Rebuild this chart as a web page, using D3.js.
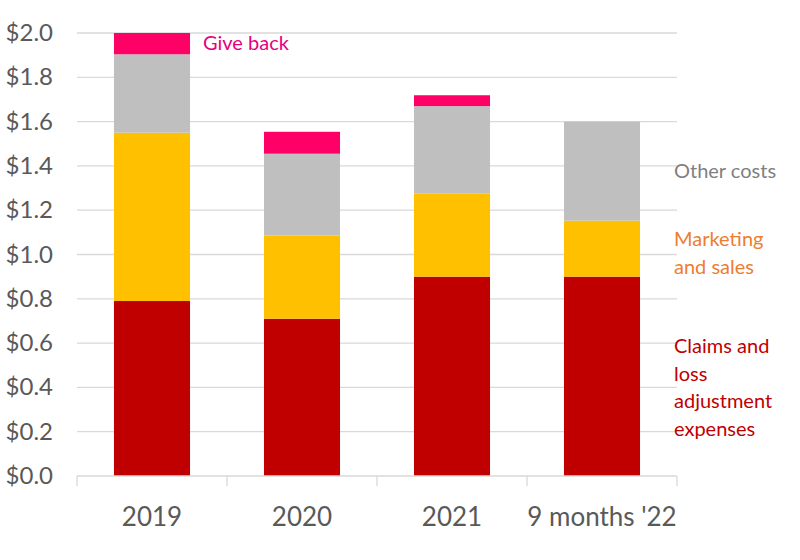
<!DOCTYPE html>
<html><head><meta charset="utf-8">
<script src="https://cdn.jsdelivr.net/npm/d3@7"></script>
<style>body{margin:0;background:#fff;} svg{display:block;}</style>
</head><body>
<svg id="chart" width="800" height="560"></svg>
<script>
const categories = ["2019", "2020", "2021", "9 months '22"];
const claims    = [0.79, 0.71, 0.90, 0.90];
const marketing = [0.76, 0.375, 0.376, 0.253];
const other     = [0.354, 0.37, 0.394, 0.447];
const giveBack  = [0.096, 0.099, 0.049, 0];
const yTicks = [0, 0.2, 0.4, 0.6, 0.8, 1.0, 1.2, 1.4, 1.6, 1.8, 2.0];
const seriesNames = ["Claims and loss adjustment expenses", "Marketing and sales", "Other costs", "Give back"];
const seriesColors = ["#C00000", "#FFC000", "#BFBFBF", "#FF0066"];

(function () {
const svg = d3.select("#chart");
const font = "Lato, Calibri, sans-serif";
const pLeft = 77, pRight = 677, pTop = 33, pBottom = 476;

const x = d3.scaleBand().domain(categories).range([pLeft, pRight]).paddingInner(0.493).paddingOuter(0.2465);
const y = d3.scaleLinear().domain([0, 2.0]).range([pBottom, pTop]);

// gridlines
svg.append("g").selectAll("line").data(yTicks.filter(d => d > 0)).join("line")
  .attr("x1", pLeft).attr("x2", pRight)
  .attr("y1", d => y(d)).attr("y2", d => y(d))
  .attr("stroke", "#D9D9D9").attr("stroke-width", 1.3);

// stacked data
const rows = categories.map((c, i) => ({cat: c, claims: claims[i], marketing: marketing[i], other: other[i], give: giveBack[i]}));
const keys = ["claims", "marketing", "other", "give"];
const stack = d3.stack().keys(keys)(rows);

svg.append("g").selectAll("g").data(stack).join("g")
  .attr("fill", (d, i) => seriesColors[i])
  .selectAll("rect").data(d => d).join("rect")
  .attr("x", d => x(d.data.cat))
  .attr("width", x.bandwidth())
  .attr("y", d => y(d[1]))
  .attr("height", d => Math.max(0, y(d[0]) - y(d[1])));

// x axis
const xAxisG = svg.append("g").attr("transform", `translate(0,${pBottom})`);
xAxisG.append("line").attr("x1", pLeft).attr("x2", pRight).attr("y1", 0).attr("y2", 0)
  .attr("stroke", "#D9D9D9").attr("stroke-width", 1.3);
const bounds = categories.map(c => x(c) - x.step() * x.paddingInner() / 2).concat([pRight]);
xAxisG.selectAll("line.tick").data(bounds).join("line").attr("class", "tick")
  .attr("x1", d => d).attr("x2", d => d).attr("y1", 0).attr("y2", 10)
  .attr("stroke", "#D9D9D9").attr("stroke-width", 1.3);
xAxisG.selectAll("text").data(categories).join("text")
  .attr("x", d => x(d) + x.bandwidth() / 2).attr("y", 50)
  .attr("text-anchor", "middle").attr("font-family", font).attr("font-size", 26)
  .attr("fill", "#595959").text(d => d);

// y axis labels
const fmt = d => "$" + d3.format(".1f")(d);
svg.append("g").selectAll("text").data(yTicks).join("text")
  .attr("x", 53).attr("y", d => y(d) + 8)
  .attr("text-anchor", "end").attr("font-family", font).attr("font-size", 24)
  .attr("fill", "#595959").text(fmt);

// series labels
const labels = [
  {lines: ["Give back"], x: 203, y: 50, color: "#E6007E"},
  {lines: ["Other costs"], x: 674, y: 178, color: "#7F7F7F"},
  {lines: ["Marketing", "and sales"], x: 674, y: 246, color: "#ED7D31"},
  {lines: ["Claims and", "loss", "adjustment", "expenses"], x: 674, y: 353, color: "#C00000"}
];
labels.forEach(l => {
  const t = svg.append("text").attr("font-family", font).attr("font-size", 20).attr("fill", l.color);
  l.lines.forEach((s, i) => t.append("tspan").attr("x", l.x).attr("y", l.y + i * 27.5).text(s));
});
})();
</script>
</body></html>
